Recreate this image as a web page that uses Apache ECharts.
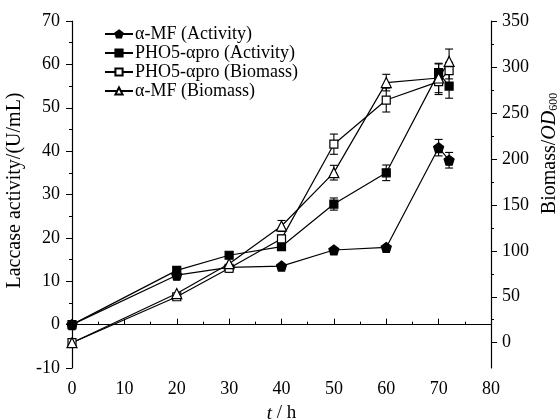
<!DOCTYPE html>
<html><head><meta charset="utf-8">
<script src="https://cdn.jsdelivr.net/npm/echarts@6/dist/echarts.min.js"></script>
<style>html,body{margin:0;padding:0;background:#fff}#c{width:558px;height:419px}</style>
</head><body><div id="c"></div>
<script>
var hours = [0, 20, 30, 40, 50, 60, 70, 72];
var mfActivity = [0, 11.4, 13.2, 13.5, 17.2, 17.8, 40.8, 37.9];
var mfActivityErr = [0, 0, 0, 0, 0, 0, 1.9, 1.8];
var phoActivity = [0, 12.5, 16.0, 18.0, 27.8, 35.0, 58.1, 55.0];
var phoActivityErr = [0, 0, 0, 0, 1.4, 1.8, 2.0, 2.8];
var phoBiomass = [0, 50, 81, 113, 216, 264, 284, 296];
var phoBiomassErr = [0, 0, 0, 4, 11, 13, 14, 9];
var mfBiomass = [0, 53.5, 86, 127, 185, 283, 288, 306];
var mfBiomassErr = [0, 0, 0, 6, 8, 9, 16, 13.5];
var leftTicks = [-10, 0, 10, 20, 30, 40, 50, 60, 70];
var rightTicks = [0, 50, 100, 150, 200, 250, 300, 350];
var rightMinorTicks = [25, 75, 125, 175, 225, 275, 325];
var names = ['α-MF (Activity)', 'PHO5-αpro (Activity)', 'PHO5-αpro (Biomass)', 'α-MF (Biomass)'];

var FONT = 'Liberation Serif';
var pentagon = 'path://M0,-10 L9.51,-3.09 L5.88,8.09 L-5.88,8.09 L-9.51,-3.09 Z';

function pairs(v) { return hours.map(function (t, i) { return [t, v[i]]; }); }
function errData(v, e) { return hours.map(function (t, i) { return [t, v[i], e[i]]; }); }

function errSeries(v, e, yIdx) {
  return {
    type: 'custom', yAxisIndex: yIdx, z: 1, silent: true,
    data: errData(v, e),
    encode: { x: 0, y: 1 },
    renderItem: function (params, api) {
      var x = api.value(0), y = api.value(1), err = api.value(2);
      if (!err) return null;
      var top = api.coord([x, y + err]);
      var bot = api.coord([x, y - err]);
      var hw = 4;
      var st = { stroke: '#000', lineWidth: 1.1 };
      return { type: 'group', children: [
        { type: 'line', shape: { x1: top[0], y1: top[1], x2: bot[0], y2: bot[1] }, style: st },
        { type: 'line', shape: { x1: top[0] - hw, y1: top[1], x2: top[0] + hw, y2: top[1] }, style: st },
        { type: 'line', shape: { x1: bot[0] - hw, y1: bot[1], x2: bot[0] + hw, y2: bot[1] }, style: st }
      ] };
    }
  };
}

function lineSeries(name, v, yIdx, symbol, size, fill) {
  return {
    name: name, type: 'line', yAxisIndex: yIdx, z: 3,
    data: pairs(v), symbol: symbol, symbolSize: size, showAllSymbol: true,
    lineStyle: { color: '#000', width: 1.2 },
    itemStyle: { color: fill, borderColor: '#000', borderWidth: 1.2 },
    emphasis: { disabled: true }, animation: false
  };
}

var chart = echarts.init(document.getElementById('c'), null, { renderer: 'canvas' });
chart.setOption({
  animation: false,
  backgroundColor: '#fff',
  textStyle: { fontFamily: FONT, color: '#000' },
  grid: { left: 72, right: 67, top: 21, bottom: 51, containLabel: false, outerBoundsMode: 'none' },
  legend: {
    orient: 'vertical', left: 99, top: 20,
    itemWidth: 28, itemHeight: 9, itemGap: 1,
    data: names,
    textStyle: { fontFamily: FONT, fontSize: 18, lineHeight: 18, color: '#000', padding: [0, 0, 0, -3] },
    selectedMode: false
  },
  xAxis: {
    type: 'value', min: 0, max: 80, interval: 10,
    name: '{i|t}{n| / h}', nameLocation: 'middle', nameGap: 36,
    nameTextStyle: { rich: {
      i: { fontFamily: FONT, fontSize: 19, fontStyle: 'italic', color: '#000' },
      n: { fontFamily: FONT, fontSize: 19, color: '#000' } } },
    axisLine: { lineStyle: { color: '#000', width: 1.2 } },
    axisTick: { inside: true, length: 6, lineStyle: { color: '#000' } },
    minorTick: { show: true, splitNumber: 2, length: 3, lineStyle: { color: '#000' } },
    axisLabel: { fontFamily: FONT, fontSize: 18, color: '#000', margin: 12 },
    splitLine: { show: false }
  },
  yAxis: [
    {
      type: 'value', min: -10, max: 70, interval: 10, position: 'left',
      name: 'Laccase activity/(U/mL)', nameLocation: 'middle', nameGap: 42, nameRotate: 90,
      nameTextStyle: { fontFamily: FONT, fontSize: 20, color: '#000', padding: [0, 0, 0, 8] },
      axisLine: { show: true, lineStyle: { color: '#000', width: 1.2 } },
      axisTick: { show: true, inside: false, length: 6, lineStyle: { color: '#000' } },
      minorTick: { show: true, splitNumber: 2, length: 3, lineStyle: { color: '#000' } },
      axisLabel: { fontFamily: FONT, fontSize: 18, color: '#000', margin: 12,
        customValues: leftTicks },
      splitLine: { show: false }
    },
    {
      type: 'value', min: -27.5, max: 350, position: 'right',
      name: '{n|Biomass/}{i|OD}{s|600}', nameLocation: 'middle', nameGap: 48, nameRotate: 90,
      nameTextStyle: { padding: [0, 0, 0, 82], rich: {
        n: { fontFamily: FONT, fontSize: 20, color: '#000' },
        i: { fontFamily: FONT, fontSize: 20, fontStyle: 'italic', color: '#000' },
        s: { fontFamily: FONT, fontSize: 12, color: '#000', verticalAlign: 'bottom', padding: [8, 0, 0, 0] } } },
      axisLine: { show: true, lineStyle: { color: '#000', width: 1.2 } },
      axisTick: { show: true, inside: false, length: 6, customValues: rightTicks, lineStyle: { color: '#000' } },
      axisLabel: { fontFamily: FONT, fontSize: 18, color: '#000', margin: 11, customValues: rightTicks },
      splitLine: { show: false }
    },
    {
      type: 'value', min: -27.5, max: 350, position: 'right',
      axisLine: { show: false },
      axisTick: { show: true, inside: false, length: 3, customValues: rightMinorTicks, lineStyle: { color: '#000' } },
      axisLabel: { show: false },
      splitLine: { show: false }
    }
  ],
  series: [
    errSeries(mfActivity, mfActivityErr, 0),
    errSeries(phoActivity, phoActivityErr, 0),
    errSeries(phoBiomass, phoBiomassErr, 1),
    errSeries(mfBiomass, mfBiomassErr, 1),
    lineSeries(names[0], mfActivity, 0, pentagon, 10, '#000'),
    lineSeries(names[1], phoActivity, 0, 'rect', 8, '#000'),
    lineSeries(names[2], phoBiomass, 1, 'rect', 8, '#fff'),
    lineSeries(names[3], mfBiomass, 1, 'triangle', 10, '#fff')
  ]
});
</script></body></html>
